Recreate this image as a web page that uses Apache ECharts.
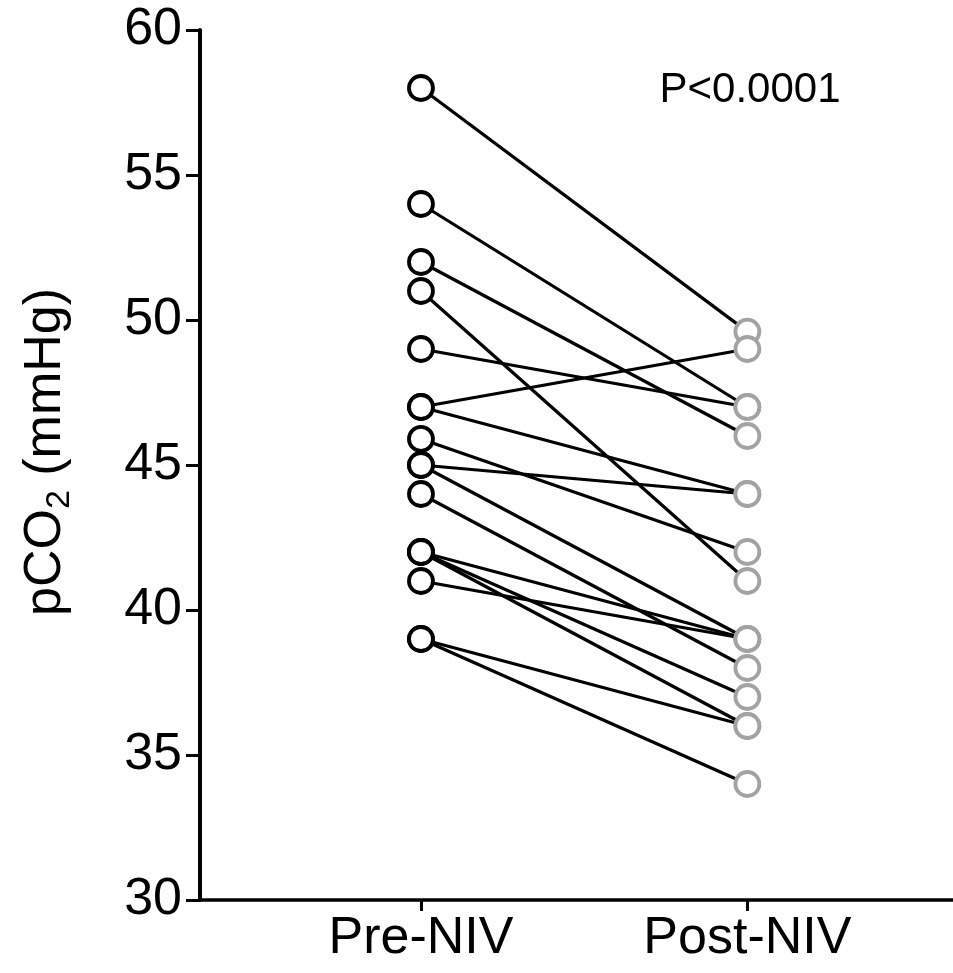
<!DOCTYPE html>
<html><head><meta charset="utf-8">
<script src="https://cdn.jsdelivr.net/npm/echarts@6/dist/echarts.min.js"></script>
<style>html,body{margin:0;padding:0;background:#fff}#c{width:953px;height:973px}</style>
</head><body><div id="c"></div>
<script>
const categories = ['Pre-NIV', 'Post-NIV'];
const preValues  = [58, 54, 52, 51, 49, 47, 47, 45.9, 45, 45, 44, 42, 42, 42, 41, 39, 39];
const postValues = [49.6, 47, 46, 41, 47, 49, 44, 42, 44, 39, 38, 39, 37, 36, 39, 36, 34];
const yTicks = [30, 35, 40, 45, 50, 55, 60];
const pValueText = 'P<0.0001';

const FONT = '"Liberation Sans", Arial, Helvetica, sans-serif';
const series = [];
for (let i = 0; i < preValues.length; i++) {
  series.push({
    type: 'line', data: [[1, preValues[i]], [2, postValues[i]]],
    symbol: 'none', lineStyle: {color: '#000', width: 3.2}, silent: true, z: 2, animation: false
  });
}
series.push({
  type: 'scatter', data: preValues.map(v => [1, v]), symbolSize: 24, z: 3,
  itemStyle: {color: '#fff', borderColor: '#000', borderWidth: 3.8, opacity: 1}, animation: false
});
series.push({
  type: 'scatter', data: postValues.map(v => [2, v]), symbolSize: 24, z: 3,
  itemStyle: {color: '#fff', borderColor: '#a3a3a3', borderWidth: 3.8, opacity: 1}, animation: false
});

const chart = echarts.init(document.getElementById('c'), null, {renderer: 'canvas'});
chart.setOption({
  animation: false,
  grid: {left: 200, top: 30, right: 0, bottom: 73, containLabel: false},
  xAxis: {
    type: 'value', min: 0.323, max: 2.63,
    axisLine: {show: true, onZero: false, lineStyle: {color: '#000', width: 3.5}},
    axisTick: {show: true, customValues: [1, 2], length: 11, lineStyle: {color: '#000', width: 3}},
    axisLabel: {show: true, customValues: [1, 2], formatter: v => categories[Math.round(v) - 1],
      fontSize: 52, color: '#000', fontFamily: FONT, margin: 13},
    splitLine: {show: false}
  },
  yAxis: {
    type: 'value', min: 30, max: 60, interval: 5,
    axisLine: {show: true, lineStyle: {color: '#000', width: 4}},
    axisTick: {show: true, length: 14, lineStyle: {color: '#000', width: 3}},
    axisLabel: {fontSize: 52, color: '#000', fontFamily: FONT, margin: 18,
      formatter: v => yTicks.includes(v) ? String(v) : ''},
    splitLine: {show: false}
  },
  graphic: [
    {type: 'text', x: 46, y: 452, rotation: Math.PI / 2,
      style: {text: 'pCO{sub|2} (mmHg)', font: '52px ' + FONT, fill: '#000',
        align: 'center', verticalAlign: 'middle',
        rich: {sub: {fontSize: 34, fontFamily: FONT, padding: [28, 0, 0, 0], fill: '#000'}}}},
    {type: 'text', x: 750, y: 90,
      style: {text: pValueText, font: '42px ' + FONT, fill: '#000', align: 'center', verticalAlign: 'middle'}}
  ],
  series: series
});
</script></body></html>
